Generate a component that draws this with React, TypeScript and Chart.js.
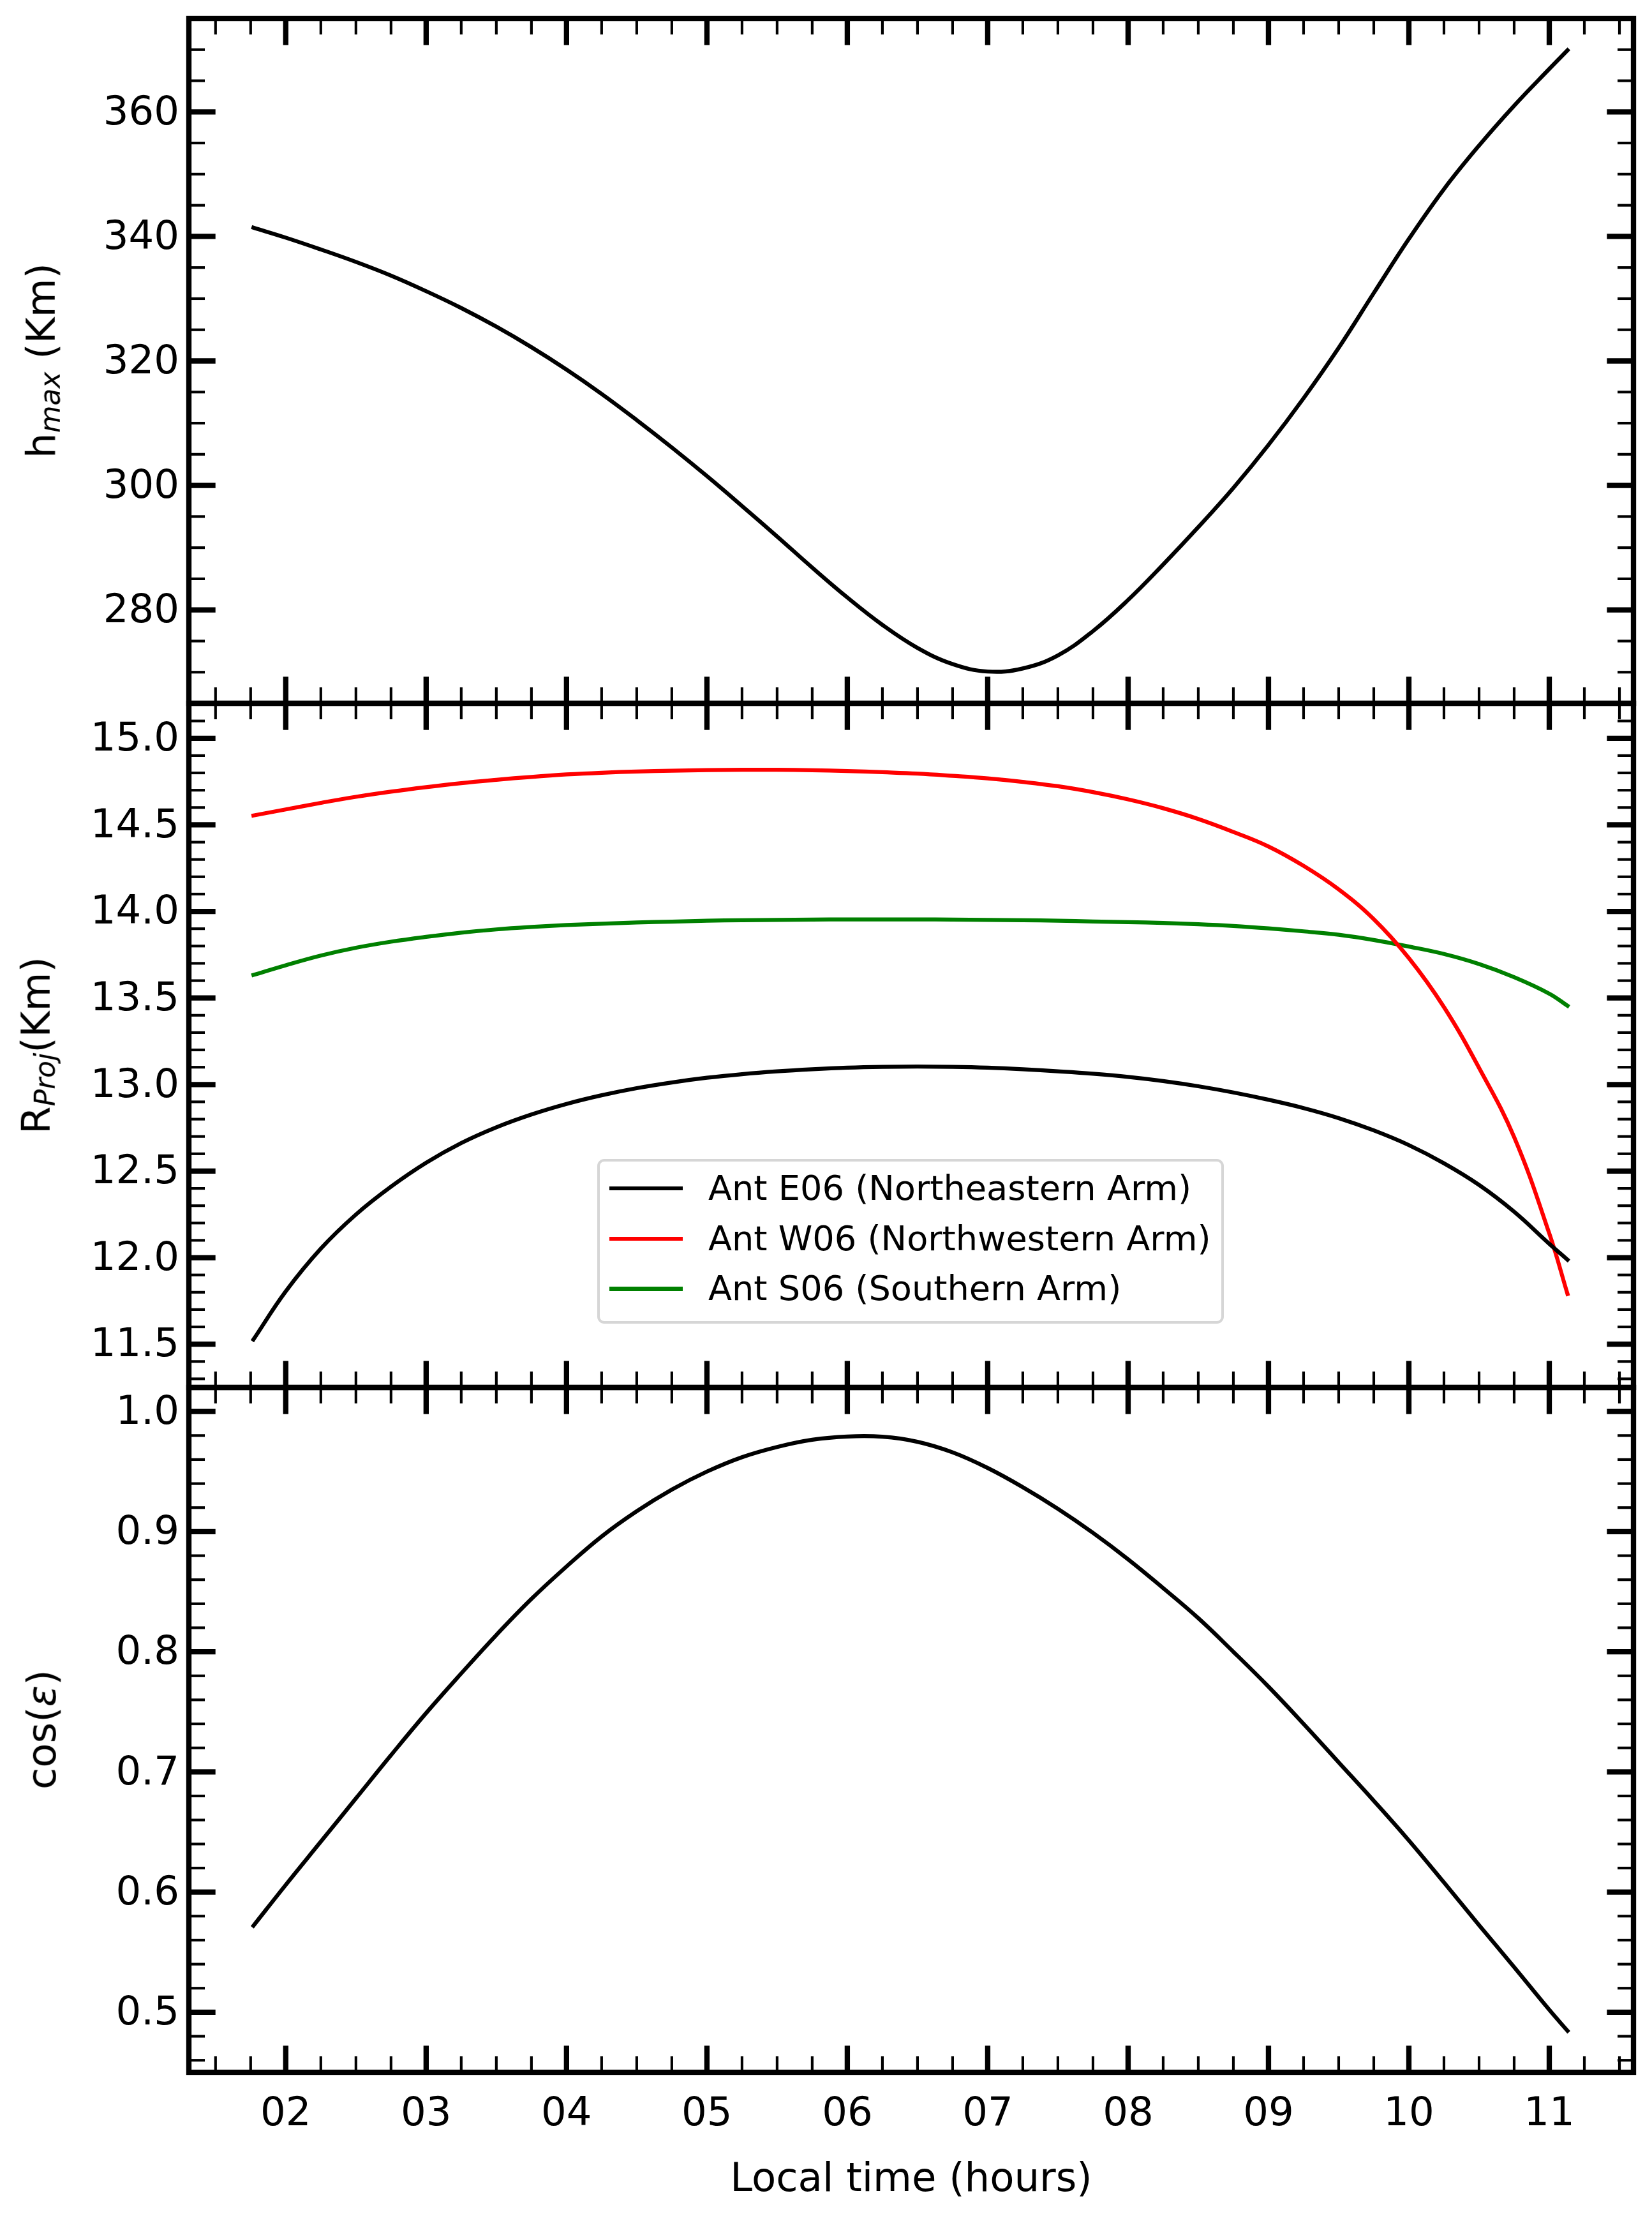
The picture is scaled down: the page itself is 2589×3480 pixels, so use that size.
import { useEffect, useRef } from "react";
import { Chart, registerables } from "chart.js";

Chart.register(...registerables);

// local time (hours) of each sample
const hours = [
  1.77, 2.0, 2.25, 2.5, 2.75, 3.0, 3.25, 3.5, 3.75, 4.0, 4.25, 4.5, 4.75, 5.0,
  5.25, 5.5, 5.75, 6.0, 6.25, 6.5, 6.75, 7.0, 7.25, 7.5, 7.75, 8.0, 8.25, 8.5,
  8.75, 9.0, 9.25, 9.5, 9.75, 10.0, 10.25, 10.5, 10.75, 11.0, 11.13,
];

// h_max (Km)
const hMax = [
  341.4, 339.8, 337.9, 335.9, 333.7, 331.2, 328.5, 325.5, 322.2, 318.6, 314.7,
  310.5, 306.1, 301.5, 296.7, 291.8, 286.8, 282.0, 277.6, 273.9, 271.3, 270.1,
  270.6, 272.7, 276.6, 281.6, 287.3, 293.3, 299.6, 306.5, 314.0, 322.1, 330.9,
  339.6, 347.6, 354.6, 361.0, 366.9, 369.9,
];

// R_Proj (Km) per antenna
const rE06 = [
  11.527, 11.805, 12.052, 12.249, 12.41, 12.548, 12.662, 12.753, 12.827, 12.888,
  12.938, 12.979, 13.012, 13.039, 13.06, 13.076, 13.088, 13.097, 13.102, 13.104,
  13.102, 13.097, 13.088, 13.076, 13.062, 13.044, 13.02, 12.99, 12.954, 12.912,
  12.864, 12.806, 12.735, 12.65, 12.545, 12.42, 12.265, 12.08, 11.988,
];
const rW06 = [
  14.554, 14.589, 14.627, 14.662, 14.692, 14.718, 14.741, 14.76, 14.777, 14.791,
  14.801, 14.808, 14.813, 14.816, 14.818, 14.818, 14.815, 14.811, 14.804, 14.796,
  14.783, 14.768, 14.748, 14.723, 14.689, 14.647, 14.596, 14.534, 14.459, 14.375,
  14.263, 14.127, 13.955, 13.73, 13.447, 13.096, 12.696, 12.14, 11.79,
];
const rS06 = [
  13.633, 13.689, 13.745, 13.79, 13.825, 13.853, 13.877, 13.896, 13.91, 13.921,
  13.929, 13.936, 13.941, 13.946, 13.949, 13.951, 13.953, 13.954, 13.954, 13.954,
  13.953, 13.951, 13.949, 13.946, 13.942, 13.938, 13.933, 13.926, 13.916, 13.902,
  13.885, 13.865, 13.835, 13.797, 13.754, 13.696, 13.62, 13.525, 13.455,
];

// cos(epsilon)
const cosEps = [
  0.572, 0.606, 0.642, 0.678, 0.714, 0.749, 0.782, 0.814, 0.844, 0.871, 0.896,
  0.917, 0.935, 0.95, 0.962, 0.9705, 0.9765, 0.9792, 0.979, 0.9748, 0.966,
  0.953, 0.937, 0.919, 0.899, 0.877, 0.853, 0.828, 0.8, 0.771, 0.74, 0.708,
  0.676, 0.643, 0.608, 0.5725, 0.5375, 0.502, 0.4845,
];

const hourTicks = [2, 3, 4, 5, 6, 7, 8, 9, 10, 11];
const hMaxTicks = [280, 300, 320, 340, 360];
const rTicks = [11.5, 12.0, 12.5, 13.0, 13.5, 14.0, 14.5, 15.0];
const cosTicks = [0.5, 0.6, 0.7, 0.8, 0.9, 1.0];

const legendLabels = [
  "Ant E06 (Northeastern Arm)",
  "Ant W06 (Northwestern Arm)",
  "Ant S06 (Southern Arm)",
];

const FONT = "DejaVu Sans";
const TICK_SIZE = 62.5;
const LINE_W = 6.25;
const SPINE_W = 8.33;
const MAJOR_LEN = 41.7;
const MINOR_LEN = 25;
const MINOR_W = 4.17;
const X_MIN = 1.31;
const X_MAX = 11.6;
const WIDTH = 2589;

function minorValues(min: number, max: number, step: number, majors: number[]) {
  const out: number[] = [];
  for (let k = Math.ceil(min / step - 1e-6); k * step <= max + 1e-9; k++) {
    const v = +(k * step).toFixed(6);
    if (!majors.some((m) => Math.abs(m - v) < step / 100)) out.push(v);
  }
  return out;
}

// inward ticks on all four sides plus the box, matplotlib style
function frameTicks(yTicks: number[], yMinorStep: number) {
  return {
    id: "frameTicks",
    afterDatasetsDraw(chart: any) {
      const { ctx, chartArea: a } = chart;
      const xs = chart.scales.x;
      const ys = chart.scales.y;
      const seg = (x1: number, y1: number, x2: number, y2: number) => {
        ctx.beginPath();
        ctx.moveTo(x1, y1);
        ctx.lineTo(x2, y2);
        ctx.stroke();
      };
      const drawX = (vals: number[], len: number, w: number) => {
        ctx.lineWidth = w;
        vals.forEach((v) => {
          const p = xs.getPixelForValue(v);
          seg(p, a.top, p, a.top + len);
          seg(p, a.bottom, p, a.bottom - len);
        });
      };
      const drawY = (vals: number[], len: number, w: number) => {
        ctx.lineWidth = w;
        vals.forEach((v) => {
          const p = ys.getPixelForValue(v);
          seg(a.left, p, a.left + len, p);
          seg(a.right, p, a.right - len, p);
        });
      };
      ctx.save();
      ctx.strokeStyle = "#000";
      ctx.lineCap = "butt";
      drawX(minorValues(xs.min, xs.max, 0.25, hourTicks), MINOR_LEN, MINOR_W);
      drawX(hourTicks, MAJOR_LEN, SPINE_W);
      drawY(minorValues(ys.min, ys.max, yMinorStep, yTicks), MINOR_LEN, MINOR_W);
      drawY(yTicks, MAJOR_LEN, SPINE_W);
      ctx.lineWidth = SPINE_W;
      ctx.lineJoin = "miter";
      ctx.strokeRect(a.left, a.top, a.right - a.left, a.bottom - a.top);
      ctx.restore();
    },
  };
}

interface Series {
  label: string;
  color: string;
  values: number[];
}

interface PanelProps {
  top: number;
  height: number;
  padTop: number;
  padBottom: number;
  series: Series[];
  yMin: number;
  yMax: number;
  yTicks: number[];
  yMinorStep: number;
  digits: number;
  showX: boolean;
}

function Panel(props: PanelProps) {
  const canvasRef = useRef<HTMLCanvasElement | null>(null);
  const chartInstance = useRef<Chart | null>(null);

  useEffect(() => {
    if (!canvasRef.current) return;
    if (chartInstance.current) chartInstance.current.destroy();

    const font = { family: FONT, size: TICK_SIZE };

    chartInstance.current = new Chart(canvasRef.current, {
      type: "line",
      data: {
        datasets: props.series.map((s) => ({
          label: s.label,
          data: hours.map((h, i) => ({ x: h, y: s.values[i] })),
          borderColor: s.color,
          borderWidth: LINE_W,
          pointRadius: 0,
          fill: false,
          tension: 0.4,
          borderCapStyle: "square" as const,
          borderJoinStyle: "round" as const,
        })),
      },
      options: {
        responsive: false,
        animation: false,
        devicePixelRatio: 1,
        events: [],
        layout: {
          padding: { left: 0, right: WIDTH - 2560, top: props.padTop, bottom: props.padBottom },
        },
        plugins: {
          legend: { display: false },
          tooltip: { enabled: false },
        },
        scales: {
          x: {
            type: "linear",
            min: X_MIN,
            max: X_MAX,
            bounds: "data",
            display: props.showX,
            grid: { display: false, drawTicks: false },
            border: { display: false },
            afterBuildTicks: (s: any) => {
              s.ticks = hourTicks.map((v) => ({ value: v }));
            },
            afterFit: (s: any) => {
              s.height = props.showX ? 233 : 0;
              s.paddingLeft = 0;
              s.paddingRight = 0;
            },
            ticks: {
              autoSkip: false,
              maxRotation: 0,
              padding: 29,
              color: "#000",
              font,
              callback: (v: any) => String(v).padStart(2, "0"),
            },
            title: {
              display: true,
              text: "Local time (hours)",
              color: "#000",
              font,
              padding: { top: 0, bottom: 26 },
            },
          },
          y: {
            type: "linear",
            min: props.yMin,
            max: props.yMax,
            bounds: "data",
            grid: { display: false, drawTicks: false },
            border: { display: false },
            afterBuildTicks: (s: any) => {
              s.ticks = props.yTicks.map((v) => ({ value: v }));
            },
            afterFit: (s: any) => {
              s.width = 296;
              s.paddingTop = 0;
              s.paddingBottom = 0;
            },
            ticks: {
              autoSkip: false,
              padding: 15,
              labelOffset: 3,
              color: "#000",
              font,
              callback: (v: any) => Number(v).toFixed(props.digits),
            },
          },
        },
      },
      plugins: [frameTicks(props.yTicks, props.yMinorStep)],
    } as any);

    return () => {
      chartInstance.current?.destroy();
      chartInstance.current = null;
    };
  }, [props]);

  return (
    <canvas
      ref={canvasRef}
      width={WIDTH}
      height={props.height}
      style={{ position: "absolute", left: 0, top: props.top }}
    />
  );
}

const hSeries: Series[] = [{ label: "h_max", color: "#000000", values: hMax }];
const rSeries: Series[] = [
  { label: legendLabels[0], color: "#000000", values: rE06 },
  { label: legendLabels[1], color: "#ff0000", values: rW06 },
  { label: legendLabels[2], color: "#008000", values: rS06 },
];
const cSeries: Series[] = [{ label: "cos", color: "#000000", values: cosEps }];

const titleStyle = (cx: number, cy: number): React.CSSProperties => ({
  position: "absolute",
  left: cx,
  top: cy,
  transform: "translate(-50%, -50%) rotate(-90deg)",
  fontFamily: FONT,
  fontSize: TICK_SIZE,
  lineHeight: `${TICK_SIZE}px`,
  whiteSpace: "nowrap",
  color: "#000",
});

const subStyle: React.CSSProperties = {
  fontSize: 44,
  fontStyle: "italic",
  verticalAlign: "-8px",
  lineHeight: 0,
};

function Legend() {
  const rowY = [1862, 1940.8, 2019.6];
  return (
    <>
      <div
        style={{
          position: "absolute",
          left: 936,
          top: 1816,
          width: 982,
          height: 258,
          boxSizing: "border-box",
          border: "4px solid #d6d6d6",
          borderRadius: 11,
          background: "rgba(255,255,255,0.8)",
        }}
      />
      {rSeries.map((s, i) => (
        <div key={s.label}>
          <div
            style={{
              position: "absolute",
              left: 954.7,
              top: rowY[i] - LINE_W / 2,
              width: 115.2,
              height: LINE_W,
              background: s.color,
            }}
          />
          <div
            style={{
              position: "absolute",
              left: 1110,
              top: rowY[i] - 31.25,
              lineHeight: "62.5px",
              fontFamily: FONT,
              fontSize: 54.17,
              whiteSpace: "nowrap",
              color: "#000",
            }}
          >
            {s.label}
          </div>
        </div>
      ))}
    </>
  );
}

const topPanel = {
  top: 0, height: 1140, padTop: 29, padBottom: 38, series: hSeries,
  yMin: 265, yMax: 375, yTicks: hMaxTicks, yMinorStep: 5, digits: 0, showX: false,
};
const midPanel = {
  top: 1060, height: 1160, padTop: 42, padBottom: 46, series: rSeries,
  yMin: 11.25, yMax: 15.202, yTicks: rTicks, yMinorStep: 0.1, digits: 1, showX: false,
};
const botPanel = {
  top: 2130, height: 1350, padTop: 44, padBottom: 0, series: cSeries,
  yMin: 0.45, yMax: 1.02, yTicks: cosTicks, yMinorStep: 0.02, digits: 1, showX: true,
};

export default function App() {
  return (
    <div
      style={{
        position: "absolute",
        left: 0,
        top: 0,
        width: WIDTH,
        height: 3480,
        background: "#fff",
        overflow: "hidden",
      }}
    >
      <Panel {...topPanel} />
      <Panel {...midPanel} />
      <Panel {...botPanel} />
      <div style={titleStyle(65, 565)}>
        h<span style={subStyle}>max</span> (Km)
      </div>
      <div style={titleStyle(56.5, 1638)}>
        R<span style={subStyle}>Proj</span>(Km)
      </div>
      <div style={titleStyle(66, 2710)}>
        cos(<span style={{ fontStyle: "italic" }}>ε</span>)
      </div>
      <Legend />
    </div>
  );
}
